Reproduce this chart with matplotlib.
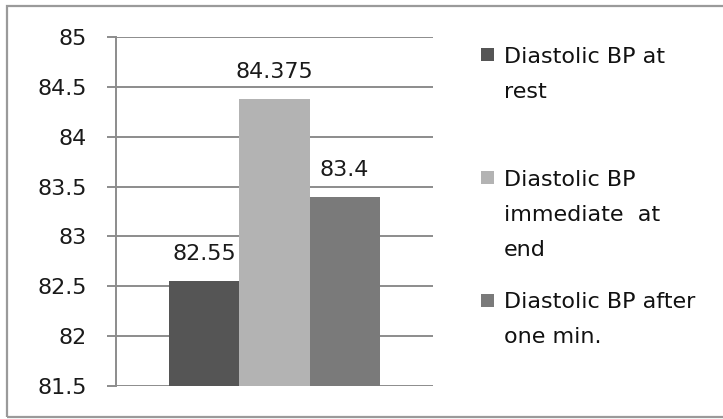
import matplotlib
matplotlib.use("Agg")
import matplotlib.pyplot as plt
from matplotlib.patches import Rectangle

# Series values (one category, three series)
series_labels = ["Diastolic BP at rest",
                 "Diastolic BP immediate at end",
                 "Diastolic BP after one min."]
legend_lines = [["Diastolic BP at", "rest"],
                ["Diastolic BP", "immediate  at", "end"],
                ["Diastolic BP after", "one min."]]
values = [82.55, 84.375, 83.4]
value_text = ["82.55", "84.375", "83.4"]
colors = ["#555555", "#b3b3b3", "#7a7a7a"]
y_ticks = [81.5, 82, 82.5, 83, 83.5, 84, 84.5, 85]
y_tick_labels = ["81.5", "82", "82.5", "83", "83.5", "84", "84.5", "85"]

W, H, DPI = 723, 419, 100
fig = plt.figure(figsize=(W / DPI, H / DPI), dpi=DPI)
fig.patch.set_facecolor("white")

def fx(px):
    return px / W

def fy(py):
    return 1 - py / H

# Outer chart border
fig.patches.append(Rectangle((fx(7), fy(417)), fx(730) - fx(7), fy(6) - fy(417),
                             transform=fig.transFigure, fill=False,
                             edgecolor="#9a9a9a", linewidth=1.6))

ax = fig.add_axes([fx(116), fy(386), fx(433) - fx(116), fy(37) - fy(386)])
positions = [-1, 0, 1]
bars = ax.bar(positions, [v - y_ticks[0] for v in values], bottom=y_ticks[0],
              width=1.0, color=colors, zorder=3)
ax.set_xlim(-2.264, 2.264)
ax.set_ylim(y_ticks[0], y_ticks[-1])
ax.set_yticks(y_ticks)
ax.set_yticklabels(y_tick_labels, fontsize=16, color="#1a1a1a")
ax.set_xticks([])
ax.tick_params(axis="y", length=6.5, width=1.4, color="#8c8c8c", pad=14.4)
ax.grid(axis="y", color="#8c8c8c", linewidth=1.4, zorder=0)
for side in ["top", "right", "bottom"]:
    ax.spines[side].set_visible(False)
ax.spines["left"].set_color("#8c8c8c")
ax.spines["left"].set_linewidth(1.4)
ax.spines["left"].set_zorder(4)

for x, v, t in zip(positions, values, value_text):
    ax.annotate(t, (x, v), xytext=(0, 15), textcoords="offset points",
                ha="center", va="baseline", fontsize=16, color="#1a1a1a")

# Legend drawn as squares and wrapped labels
legend_y = [55, 178, 300]
for lines, c, y in zip(legend_lines, colors, legend_y):
    fig.patches.append(Rectangle((fx(481), fy(y + 6.5)), fx(13), 13 / H,
                                 transform=fig.transFigure, facecolor=c,
                                 edgecolor="none"))
    for i, line in enumerate(lines):
        fig.text(fx(504), fy(y + 35 * i), line, fontsize=16, color="#111111",
                 ha="left", va="center_baseline")

fig.savefig("out.png", dpi=DPI)
